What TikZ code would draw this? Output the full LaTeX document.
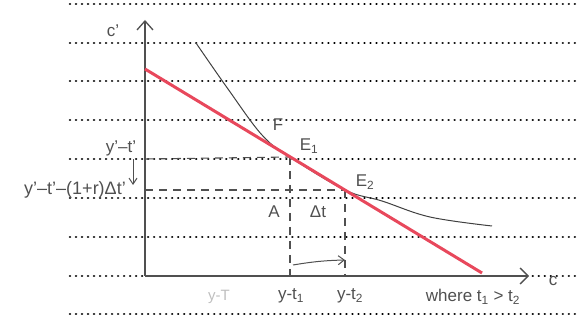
\documentclass[tikz,border=0pt]{standalone}
\usepackage{fontspec}
\setmainfont{Liberation Sans}
\usetikzlibrary{arrows.meta}
\definecolor{pencil}{RGB}{80,80,80}
\definecolor{redpen}{RGB}{232,72,92}
\tikzset{
  rule/.style={line width=2.6pt, dash pattern=on 0.01pt off 6pt, line cap=round, black},
  axis/.style={line width=1.3pt, pencil},
  guide/.style={line width=1.1pt, pencil, dash pattern=on 8pt off 6pt},
  chord/.style={line width=3pt, redpen},
  curvel/.style={line width=1pt, black!75},
  lbl/.style={text=pencil, font=\fontsize{17}{19}\selectfont, inner sep=1pt},
  faint/.style={text=black!25, font=\fontsize{15}{17}\selectfont, inner sep=1pt}
}
\begin{document}
\begin{tikzpicture}[x=1pt,y=-1pt]
\useasboundingbox (0,0) rectangle (578,320);
% ruled dotted lines
\foreach \yy in {4,43,81,120,159,198,237,276,314}
  \draw[rule] (70,\yy) -- (578,\yy);
% coordinates
\coordinate (O) at (145,276);
\coordinate (Ytop) at (145,20);
\coordinate (Xend) at (529,276);
\coordinate (E1) at (290,157);
\coordinate (E2) at (345,190);
\coordinate (R0) at (145,69);
\coordinate (R1) at (482,273);
\coordinate (L1) at (145,159);
\coordinate (L2) at (145,190);
\coordinate (B1) at (290,276);
\coordinate (B2) at (345,276);
\coordinate (Ga) at (293,265);
\coordinate (Gb) at (345,260);
\coordinate (Da) at (133,159);
\coordinate (Db) at (133,185);
% axes
\draw[axis, -{Straight Barb[length=9pt,width=16pt,line width=1.3pt]}] (O) -- (Ytop);
\draw[axis, -{Straight Barb[length=8pt,width=16pt,line width=1.3pt]}] (O) -- (Xend);
% guide lines
\draw[guide] (L1) -- (E1);
\draw[guide] (L2) -- (E2);
\draw[guide] (E1) -- (B1);
\draw[guide] (E2) -- (B2);
% small arrows
\draw[line width=1pt, pencil, -{Straight Barb[length=6pt,width=9pt]}] (Ga) to[bend left=4] (Gb);
\draw[line width=1pt, pencil, -{Straight Barb[length=6pt,width=8pt]}] (Da) -- (Db);
% curve
\draw[curvel] plot[smooth, tension=0.6] coordinates {(196,43) (228,89) (262,135) (290,157) (345,190) (382,201) (430,217) (492,226)};
% red chord
\draw[chord] (R0) -- (R1);
% labels
\node[lbl] (lc1) at (113,31) {c’};
\node[lbl] (lc) at (553,281) {c};
\node[lbl] (lyt) at (121,148) {y’–t’};
\node[lbl, font=\fontsize{18}{20}\selectfont] (lyt2) at (75,190) {y’–t’–(1+r)Δt’};
\node[lbl] (lA) at (274,212) {A};
\node[lbl] (ldt) at (318,212) {Δt};
\node[lbl] (lF) at (278,125) {F};
\node[lbl] (lE1) at (309,146) {E\textsubscript{1}};
\node[lbl] (lE2) at (365,182) {E\textsubscript{2}};
\node[faint] (lyT) at (219,297) {y-T};
\node[lbl] (lt1) at (291,296) {y-t\textsubscript{1}};
\node[lbl] (lt2) at (350,296) {y-t\textsubscript{2}};
\node[lbl] (lwh) at (473,297) {where t\textsubscript{1} > t\textsubscript{2}};
\end{tikzpicture}
\end{document}
